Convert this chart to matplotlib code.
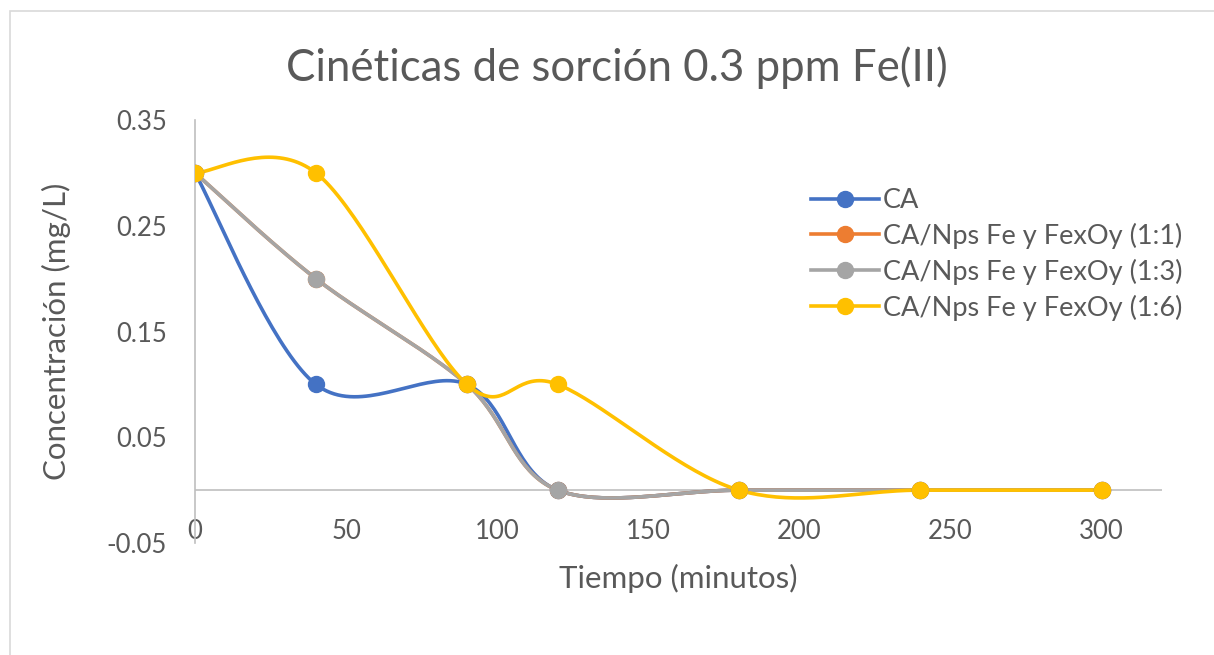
import matplotlib
matplotlib.use("Agg")
import matplotlib.pyplot as plt
import numpy as np
from matplotlib.patches import Rectangle

tiempo = [0, 40, 90, 120, 180, 240, 300]
ca = [0.3, 0.1, 0.1, 0.0, 0.0, 0.0, 0.0]
ca_11 = [0.3, 0.2, 0.1, 0.0, 0.0, 0.0, 0.0]
ca_13 = [0.3, 0.2, 0.1, 0.0, 0.0, 0.0, 0.0]
ca_16 = [0.3, 0.3, 0.1, 0.1, 0.0, 0.0, 0.0]

series = [
    ("CA", ca, "#4472C4"),
    ("CA/Nps Fe y FexOy (1:1)", ca_11, "#ED7D31"),
    ("CA/Nps Fe y FexOy (1:3)", ca_13, "#A5A5A5"),
    ("CA/Nps Fe y FexOy (1:6)", ca_16, "#FFC000"),
]

txt = "#595959"
plt.rcParams['font.family'] = ['Lato', 'DejaVu Sans']


def smooth(x, y, n=40):
    # excel-like smoothed line (catmull-rom as cubic bezier)
    p = np.column_stack([x, y]).astype(float)
    p = np.vstack([p[0], p, p[-1]])
    out = []
    t = np.linspace(0, 1, n)[:, None]
    for i in range(1, len(p) - 2):
        p0, p1, p2, p3 = p[i - 1], p[i], p[i + 1], p[i + 2]
        c1 = p1 + (p2 - p0) / 6
        c2 = p2 - (p3 - p1) / 6
        seg = ((1 - t) ** 3) * p1 + 3 * ((1 - t) ** 2) * t * c1 + 3 * (1 - t) * t ** 2 * c2 + t ** 3 * p2
        out.append(seg)
    out = np.vstack(out)
    return out[:, 0], out[:, 1]


fig = plt.figure(figsize=(12.14, 6.55), dpi=100)
fig.patches.append(Rectangle((10 / 1214, -0.1), 1.2, 1 - 11 / 655 + 0.1, transform=fig.transFigure,
                             fill=False, edgecolor="#D9D9D9", linewidth=1.2))

ax = fig.add_axes([195 / 1214, 1 - 543 / 655, (1162 - 195) / 1214, (543 - 120) / 655])

for name, vals, col in series:
    sx, sy = smooth(tiempo, vals)
    ax.plot(sx, sy, color=col, linewidth=2.6, solid_capstyle="round", zorder=3)
    ax.plot(tiempo, vals, linestyle="none", marker="o", markersize=11.5, color=col, zorder=4)
    ax.plot([], [], color=col, linewidth=2.6, marker="o", markersize=11.5, label=name)

ax.axhline(0, color="#BFBFBF", linewidth=1.2, zorder=1)
ax.set_xlim(0, 320)
ax.set_ylim(-0.05, 0.35)
ax.set_xticks([0, 50, 100, 150, 200, 250, 300])
ax.set_yticks([-0.05, 0.05, 0.15, 0.25, 0.35])
ax.set_yticklabels(["-0.05", "0.05", "0.15", "0.25", "0.35"])

for s in ["top", "right", "bottom"]:
    ax.spines[s].set_visible(False)
ax.spines["left"].set_color("#BFBFBF")
ax.spines["left"].set_linewidth(1.2)

ax.tick_params(axis="x", length=0, pad=-17, labelsize=18.5, labelcolor=txt)
ax.tick_params(axis="y", length=0, pad=20, labelsize=18.5, labelcolor=txt)

ax.set_xlabel("Tiempo (minutos)", fontsize=22.5, color=txt)
ax.set_ylabel("Concentración (mg/L)", fontsize=22.5, color=txt)
ax.yaxis.set_label_coords(-124 / 967, 0.5)
ax.xaxis.set_label_coords(0.5, -21 / 423)

fig.text(617 / 1214, 1 - 68 / 655, "Cinéticas de sorción 0.3 ppm Fe(II)", fontsize=31.5,
         color=txt, ha="center", va="center")

ax.legend(loc="upper left", bbox_to_anchor=(811 / 1214, 1 - 188 / 655), bbox_transform=fig.transFigure,
          frameon=False, fontsize=19.5, labelcolor=txt, handlelength=2.5, handletextpad=0.15,
          labelspacing=0.36, borderpad=0, borderaxespad=0)

fig.savefig("out.png", dpi=100)
